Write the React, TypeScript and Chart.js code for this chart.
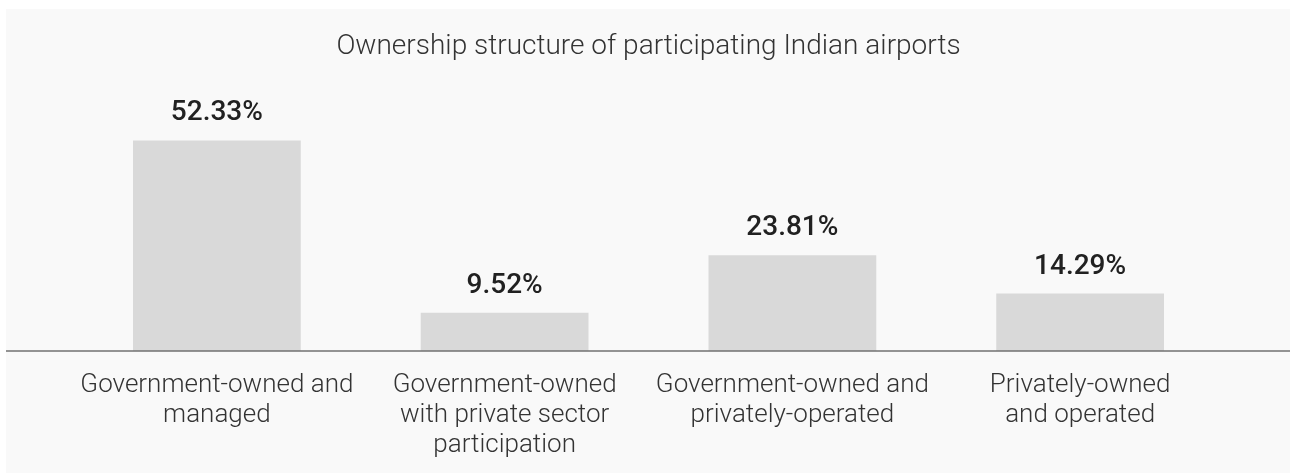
import React, { useEffect, useRef } from "react";
import { Chart, registerables } from "chart.js";

Chart.register(...registerables);

const TITLE = "Ownership structure of participating Indian airports";
const CATEGORIES: string[][] = [
  ["Government-owned and", "managed"],
  ["Government-owned", "with private sector", "participation"],
  ["Government-owned and", "privately-operated"],
  ["Privately-owned", "and operated"],
];
const SHARES = [52.33, 9.52, 23.81, 14.29];
const Y_MAX = 60;

const valueLabels = {
  id: "valueLabels",
  afterDatasetsDraw(chart: any) {
    const ctx = chart.ctx;
    const meta = chart.getDatasetMeta(0);
    ctx.save();
    ctx.font = "500 28px Roboto";
    ctx.fillStyle = "#212121";
    ctx.textAlign = "center";
    ctx.textBaseline = "middle";
    meta.data.forEach((bar: any, i: number) => {
      const v = chart.data.datasets[0].data[i] as number;
      ctx.fillText(v.toFixed(2) + "%", bar.x, bar.y - 27);
    });
    ctx.restore();
  },
};

const baseline = {
  id: "baseline",
  afterDatasetsDraw(chart: any) {
    const ctx = chart.ctx;
    const y = chart.scales.y.getPixelForValue(0);
    ctx.save();
    ctx.strokeStyle = "#707070";
    ctx.lineWidth = 1.5;
    ctx.beginPath();
    ctx.moveTo(0, y);
    ctx.lineTo(chart.width, y);
    ctx.stroke();
    ctx.restore();
  },
};

export default function App() {
  const ref = useRef<HTMLCanvasElement | null>(null);
  useEffect(() => {
    if (!ref.current) return;
    const chart = new Chart(ref.current, {
      type: "bar",
      data: {
        labels: CATEGORIES,
        datasets: [
          {
            data: SHARES,
            backgroundColor: "#d9d9d9",
            borderWidth: 0,
            barPercentage: 0.583,
            categoryPercentage: 1,
          },
        ],
      },
      options: {
        animation: false,
        responsive: false,
        maintainAspectRatio: false,
        layout: { padding: { left: 67, right: 66, top: 0, bottom: 15 } },
        plugins: {
          legend: { display: false },
          tooltip: { enabled: false },
          title: {
            display: true,
            text: TITLE,
            color: "#333333",
            font: { family: "Roboto", size: 28, weight: "300", lineHeight: 1.2 },
            padding: { top: 21, bottom: 46 },
          },
        },
        scales: {
          x: {
            grid: { display: false, drawTicks: false },
            border: { display: false },
            ticks: {
              color: "#333333",
              padding: 19,
              maxRotation: 0,
              autoSkip: false,
              font: { family: "Roboto", size: 26, weight: "300", lineHeight: "30px" },
            },
          },
          y: {
            display: false,
            min: 0,
            max: Y_MAX,
          },
        },
      },
      plugins: [valueLabels, baseline],
    });
    return () => chart.destroy();
  }, []);
  return (
    <div
      style={{
        position: "fixed",
        left: 6,
        top: 9,
        width: 1284,
        height: 464,
        overflow: "hidden",
        background: "#f9f9f9",
      }}
    >
      <canvas ref={ref} width={1284} height={485} style={{ display: "block" }} />
    </div>
  );
}
